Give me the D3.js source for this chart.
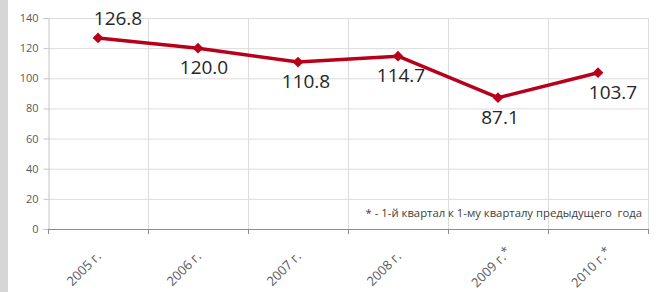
<!DOCTYPE html>
<html><head><meta charset="utf-8">
<script src="https://cdn.jsdelivr.net/npm/d3@7"></script>
<style>html,body{margin:0;padding:0;background:#fff;}svg{display:block;}</style>
</head><body>
<svg id="chart" width="657" height="292"></svg>
<script>
const years = ["2005 г.", "2006 г.", "2007 г.", "2008 г.", "2009 г.", "2010 г."];
const starred = [false, false, false, false, true, true];
const values = [126.8, 120.0, 110.8, 114.7, 87.1, 103.7];
const yTicks = [0, 20, 40, 60, 80, 100, 120, 140];
const footnote = "* - 1-й квартал к 1-му кварталу предыдущего  года";

// label layout (not data): side and horizontal nudge per point
const labelLayout = [
  {side: "above", dx: 20}, {side: "below", dx: 6}, {side: "below", dx: 8},
  {side: "below", dx: 3}, {side: "below", dx: 2}, {side: "below", dx: 15}
];

const svg = d3.select("#chart");
const W = 657, H = 292;
const m = {left: 48, right: 9, top: 18, bottom: 63};
const red = "#b8001a";

svg.append("rect").attr("x", 0).attr("y", 0).attr("width", 8).attr("height", H).attr("fill", "#d6d6d6");

const x = d3.scaleBand().domain(years).range([m.left, W - m.right]);
const y = d3.scaleLinear().domain([0, 140]).range([H - m.bottom, m.top]);

// horizontal gridlines
svg.append("g").selectAll("line").data(yTicks.filter(d => d > 0)).join("line")
  .attr("x1", m.left).attr("x2", W - m.right)
  .attr("y1", d => y(d) + 0.5).attr("y2", d => y(d) + 0.5)
  .attr("stroke", "#dcdcdc").attr("stroke-width", 1);
// vertical gridlines at category boundaries
const bounds = years.map(d => x(d)).concat([x(years[years.length - 1]) + x.bandwidth()]);
svg.append("g").selectAll("line").data(bounds.slice(1)).join("line")
  .attr("x1", d => Math.round(d) + 0.5).attr("x2", d => Math.round(d) + 0.5)
  .attr("y1", m.top).attr("y2", y(0))
  .attr("stroke", "#dcdcdc").attr("stroke-width", 1);

// y axis
const yAxis = d3.axisLeft(y).tickValues(yTicks).tickSize(5).tickPadding(5);
const gy = svg.append("g").attr("transform", `translate(${m.left + 0.5},0)`).call(yAxis);
gy.select(".domain").attr("stroke", "#c4c4c4");
gy.selectAll(".tick line").attr("stroke", "#c4c4c4");
gy.selectAll(".tick text").attr("fill", "#595959").attr("font-family", "'Open Sans', sans-serif").attr("font-size", "11px");

// x axis line + ticks at boundaries
svg.append("line").attr("x1", m.left).attr("x2", W - m.right)
  .attr("y1", y(0) + 0.5).attr("y2", y(0) + 0.5).attr("stroke", "#8c8c8c");
svg.append("g").selectAll("line").data(bounds).join("line")
  .attr("x1", d => Math.round(d) + 0.5).attr("x2", d => Math.round(d) + 0.5)
  .attr("y1", y(0)).attr("y2", y(0) + 5).attr("stroke", "#8c8c8c");

// x labels
const cx = d => x(d) + x.bandwidth() / 2;
const xl = svg.append("g").selectAll("text").data(years).join("text")
  .attr("transform", (d, i) => starred[i]
      ? `translate(${cx(d) + 14},${y(0) + 24}) rotate(-45)`
      : `translate(${cx(d) + 4},${y(0) + 28}) rotate(-45)`)
  .attr("text-anchor", "end")
  .attr("fill", "#595959").attr("font-family", "'Open Sans', sans-serif").attr("font-size", "13px");
xl.append("tspan").text(d => d);
xl.filter((d, i) => starred[i]).append("tspan").attr("dx", 1).attr("dy", -2).attr("font-size", "12px").text("*");

// line
const pts = years.map((d, i) => [cx(d), y(values[i])]);
svg.append("path").datum(pts).attr("d", d3.line())
  .attr("fill", "none").attr("stroke", red).attr("stroke-width", 3.5).attr("stroke-linejoin", "round");
svg.append("g").selectAll("rect").data(pts).join("rect")
  .attr("x", -3.8).attr("y", -3.8).attr("width", 7.6).attr("height", 7.6)
  .attr("transform", d => `translate(${d[0]},${d[1]}) rotate(45)`)
  .attr("fill", red);

// data labels
svg.append("g").selectAll("text").data(values).join("text")
  .attr("x", (d, i) => cx(years[i]) + labelLayout[i].dx)
  .attr("y", (d, i) => y(d) + (labelLayout[i].side === "above" ? -13 : 26))
  .attr("text-anchor", "middle")
  .attr("fill", "#262626").attr("font-family", "'Open Sans', sans-serif").attr("font-size", "19px")
  .text(d => d.toFixed(1));

// footnote
svg.append("text").attr("x", 642).attr("y", 217).attr("text-anchor", "end")
  .attr("fill", "#404040").attr("font-family", "'Open Sans', sans-serif").attr("font-size", "11.3px")
  .style("white-space", "pre")
  .text(footnote);
</script>
</body></html>
